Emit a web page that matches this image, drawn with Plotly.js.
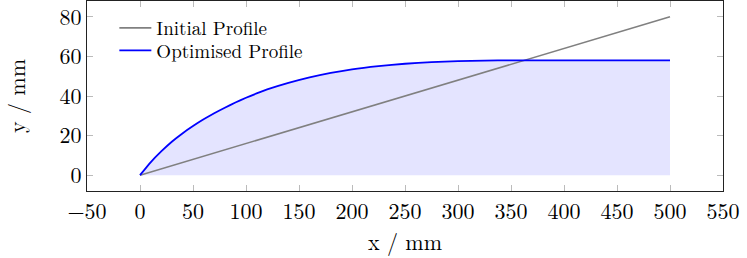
<!DOCTYPE html>
<html>
<head>
<meta charset="utf-8">
<script src="https://cdn.plot.ly/plotly-3.0.1.min.js"></script>
<style>html,body{margin:0;padding:0;background:#fff;}#chart{width:747px;height:258px;}</style>
</head>
<body>
<div id="chart"></div>
<script>
// Initial profile (straight line)
const initialX = [0, 500];
const initialY = [0, 80];

// Optimised profile
const optX = [0, 10, 20, 30, 40, 50, 60, 70, 80, 90, 100, 110, 120, 140, 160, 180, 200, 225, 250, 275, 300, 325, 350, 400, 450, 500];
const optY = [0, 6.5, 12.0, 16.9, 21.1, 24.8, 28.2, 31.3, 34.1, 36.7, 39.1, 41.3, 43.3, 46.6, 49.4, 51.7, 53.5, 55.1, 56.3, 57.1, 57.6, 57.9, 58.0, 58.0, 58.0, 58.0];

const xTicks = [-50, 0, 50, 100, 150, 200, 250, 300, 350, 400, 450, 500, 550];
const xTickText = ["\u221250", "0", "50", "100", "150", "200", "250", "300", "350", "400", "450", "500", "550"];
const yTicks = [0, 20, 40, 60, 80];

const seriesNames = ["Initial Profile", "Optimised Profile"];

const FONT = "Latin Modern Roman";

const traces = [
  {
    x: optX, y: optY, type: "scatter", mode: "lines",
    fill: "tozeroy", fillcolor: "rgb(228,228,255)",
    line: {color: "rgba(0,0,0,0)", width: 0, shape: "spline", smoothing: 0.5},
    showlegend: false, hoverinfo: "skip"
  },
  {
    x: initialX, y: initialY, type: "scatter", mode: "lines",
    name: seriesNames[0], legend: "legend",
    line: {color: "rgb(128,128,128)", width: 1.6}
  },
  {
    x: optX, y: optY, type: "scatter", mode: "lines",
    name: seriesNames[1], legend: "legend2",
    line: {color: "rgb(0,0,255)", width: 1.8, shape: "spline", smoothing: 0.5}
  }
];

const legendBase = {
  x: 0.043, xanchor: "left", yanchor: "middle",
  bgcolor: "rgba(255,255,255,0)", borderwidth: 0,
  font: {family: FONT, size: 19, color: "#000"},
  itemwidth: 32
};

const layout = {
  width: 747, height: 258,
  margin: {l: 87, r: 24, t: 1, b: 67},
  paper_bgcolor: "#fff", plot_bgcolor: "#fff",
  font: {family: FONT, size: 22, color: "#000"},
  showlegend: true,
  legend: Object.assign({}, legendBase, {y: 0.858}),
  legend2: Object.assign({}, legendBase, {y: 0.739}),
  xaxis: {
    range: [-50, 550], tickmode: "array", tickvals: xTicks, ticktext: xTickText,
    ticks: "inside", ticklen: 6, tickcolor: "#bbb", tickwidth: 1,
    showline: true, linecolor: "#222", linewidth: 1.2, mirror: "ticks",
    showgrid: false, zeroline: false, ticklabeloverflow: "allow",
    tickfont: {family: FONT, size: 22},
    title: {text: "x / mm", font: {family: FONT, size: 22}, standoff: 0}
  },
  yaxis: {
    range: [-8, 88], tickmode: "array", tickvals: yTicks,
    ticks: "inside", ticklen: 6, tickcolor: "#bbb", tickwidth: 1,
    showline: true, linecolor: "#222", linewidth: 1.2, mirror: "ticks",
    showgrid: false, zeroline: false, ticklabeloverflow: "allow",
    tickfont: {family: FONT, size: 22},
    title: {text: "y / mm", font: {family: FONT, size: 22}, standoff: 28}
  }
};

Plotly.newPlot("chart", traces, layout, {displayModeBar: false, staticPlot: true});
</script>
</body>
</html>
